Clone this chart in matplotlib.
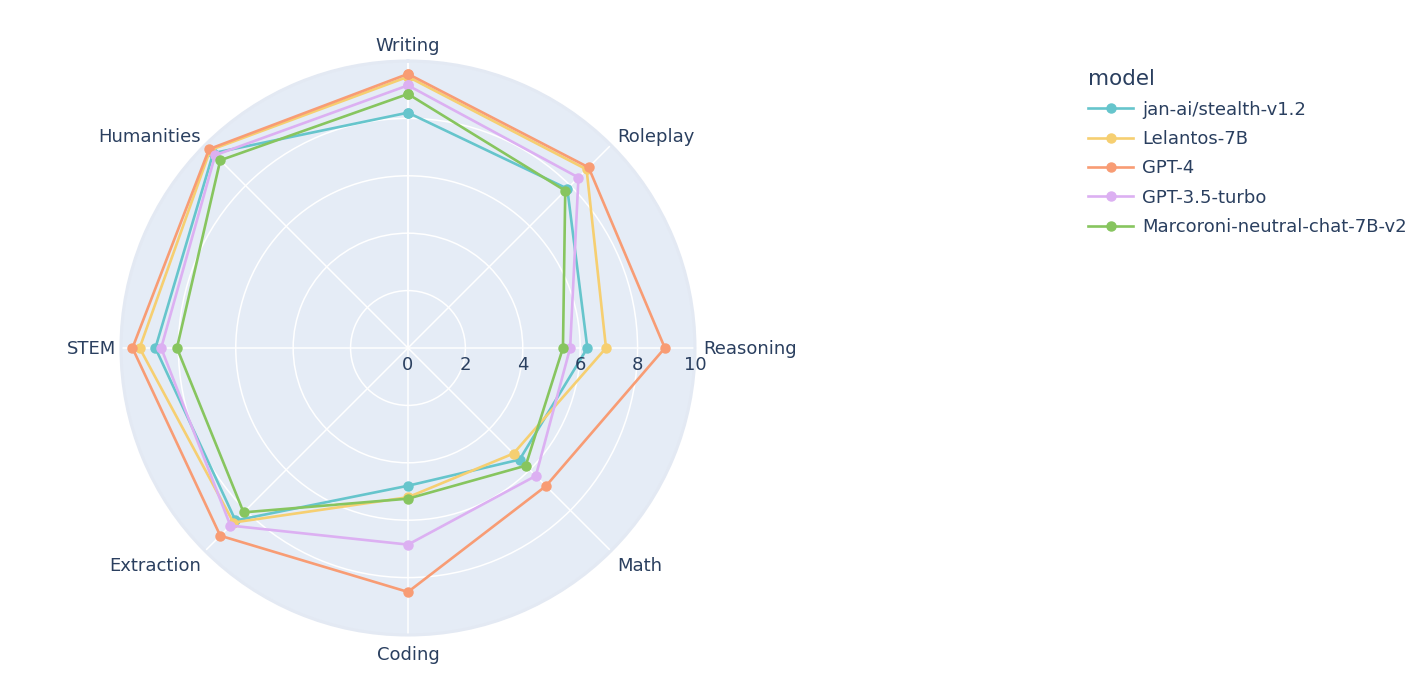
import numpy as np
import matplotlib
matplotlib.use("Agg")
import matplotlib.pyplot as plt
from matplotlib.lines import Line2D

plt.rcParams['font.family'] = ['DejaVu Sans']

categories = ["Writing", "Roleplay", "Reasoning", "Math", "Coding", "Extraction", "STEM", "Humanities"]
models = ["jan-ai/stealth-v1.2", "Lelantos-7B", "GPT-4", "GPT-3.5-turbo", "Marcoroni-neutral-chat-7B-v2"]
jan_scores = [8.2, 7.85, 6.25, 5.5, 4.8, 8.5, 8.8, 9.6]
lelantos_scores = [9.45, 8.8, 6.9, 5.2, 5.2, 8.6, 9.35, 9.75]
gpt4_scores = [9.55, 8.9, 8.95, 6.8, 8.5, 9.25, 9.6, 9.8]
gpt35_scores = [9.15, 8.4, 5.65, 6.3, 6.85, 8.75, 8.6, 9.5]
marcoroni_scores = [8.85, 7.75, 5.4, 5.8, 5.25, 8.1, 8.05, 9.25]
radial_ticks = [0, 2, 4, 6, 8, 10]
colors = ["#66C5CC", "#F6CF71", "#F89C74", "#DCB0F2", "#87C55F"]

series = [jan_scores, lelantos_scores, gpt4_scores, gpt35_scores, marcoroni_scores]
text_color = "#2a3f5f"
FS = 13

fig = plt.figure(figsize=(14.23, 6.93), dpi=100)
ax = fig.add_axes([0.0850, 0.0837, 0.4034, 0.8283], projection='polar')
ax.set_facecolor("#E5ECF6")
ax.set_theta_zero_location('N')
ax.set_theta_direction(-1)

n = len(categories)
angles = np.arange(n) * 2 * np.pi / n

for vals, col, name in zip(series, colors, models):
    th = np.append(angles, angles[0])
    r = np.append(vals, vals[0])
    ax.plot(th, r, color=col, lw=1.9, marker='o', ms=6.5, label=name, zorder=3,
            solid_joinstyle='round')

ax.set_ylim(0, 10)
ax.set_yticks(radial_ticks[1:-1])
ax.set_yticklabels([])
ax.set_xticks(angles)
ax.set_xticklabels([])
ax.grid(True, color='white', lw=1.1)
ax.spines['polar'].set_color('#e3e9f3')
ax.spines['polar'].set_linewidth(2.2)
ax.tick_params(length=0)

# radial axis line
ax.plot([0, 0], [0, 10], color='white', lw=1.1, zorder=1)

for v in radial_ticks:
    ax.annotate(str(v), xy=(np.pi / 2, v), xytext=(0, -17 * 0.72), textcoords='offset points',
                ha='center', va='center', fontsize=FS, color=text_color, zorder=4)

# label offsets in pixels (x right, y up) and horizontal alignment
px = 0.72
label_offsets = {
    "Writing": (0, 15, 'center'),
    "Roleplay": (6, 8, 'left'),
    "Reasoning": (8, -1, 'left'),
    "Math": (6, -15, 'left'),
    "Coding": (0, -20, 'center'),
    "Extraction": (-4, -15, 'right'),
    "STEM": (-5, -1, 'right'),
    "Humanities": (-4, 8, 'right'),
}
for a, c in zip(angles, categories):
    ox, oy, ha = label_offsets[c]
    ax.annotate(c, xy=(a, 10), xytext=(ox * px, oy * px), textcoords='offset points',
                ha=ha, va='center', fontsize=FS, color=text_color, annotation_clip=False)

handles = [Line2D([0], [0], color=c, lw=1.9, marker='o', ms=6.5) for c in colors]
leg = fig.legend(handles, models, loc='upper left', bbox_to_anchor=(1072 / 1423, 1 - 53 / 693),
                 frameon=False, title='model', fontsize=FS, title_fontsize=15.5,
                 handlelength=2.5, handletextpad=0.5, labelspacing=0.63, alignment='left',
                 labelcolor=text_color)
leg.get_title().set_color(text_color)

fig.savefig("out.png", dpi=100, facecolor='white')
